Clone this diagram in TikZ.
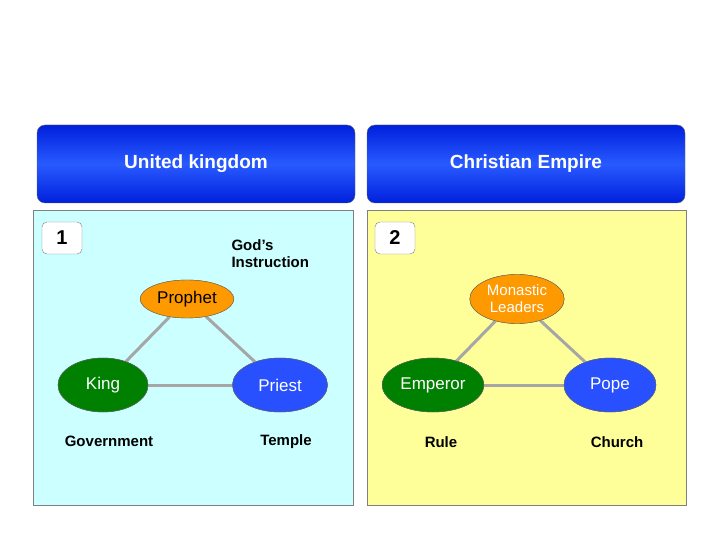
\documentclass[tikz,border=0pt]{standalone}
\usepackage{fontspec}
\setmainfont{Liberation Sans}
\usetikzlibrary{shapes.geometric}
\definecolor{hdblue}{RGB}{0,32,220}
\definecolor{hdlight}{RGB}{40,90,255}
\definecolor{paneblue}{RGB}{204,255,255}
\definecolor{paneyellow}{RGB}{255,255,153}
\definecolor{leafgreen}{RGB}{0,128,0}
\definecolor{leafblue}{RGB}{40,80,255}
\definecolor{topgold}{RGB}{255,153,0}
\tikzset{
  header/.style={rounded corners=8pt, draw=black!60, top color=hdblue, bottom color=hdblue, middle color=hdlight, minimum width=318pt, minimum height=78pt, text=white, font=\fontsize{19}{22}\selectfont\bfseries},
  pane/.style={draw=black!50, thin},
  numbox/.style={rounded corners=5pt, draw=black!50, fill=white, minimum width=40pt, minimum height=32pt, font=\fontsize{20}{22}\selectfont\bfseries},
  bubble/.style={ellipse, draw=black!60, minimum width=#1, minimum height=54pt, font=\fontsize{17}{19}\selectfont},
  tip/.style={ellipse, draw=black!60, fill=topgold, font=\fontsize{17}{19}\selectfont},
  caption/.style={font=\fontsize{15}{17}\selectfont\bfseries},
  link/.style={draw=black!35, line width=3pt}
}
\begin{document}
\begin{tikzpicture}[x=1pt, y=-1pt]
  \useasboundingbox (0,0) rectangle (720,540);
  % panels
  \draw[pane, fill=paneblue] (33,210) rectangle (353,505);
  \draw[pane, fill=paneyellow] (367,210) rectangle (686,505);
  \node[header] (uk) at (196,164) {United kingdom};
  \node[header] (ce) at (526,164) {Christian Empire};
  \node[numbox] (one) at (62,238) {1};
  \node[numbox] (two) at (395,238) {2};
  \node[caption, align=left, anchor=west] (inst) at (228,254) {God’s\\Instruction};
  % left triangle
  \node[tip, minimum width=76pt, minimum height=38pt] (prophet) at (187,299) {Prophet};
  \node[bubble=90pt, fill=leafgreen, text=white] (king) at (103,385) {King};
  \node[bubble=95pt, fill=leafblue, text=white] (priest) at (280,385) {Priest};
  \draw[link] (prophet) -- (king);
  \draw[link] (prophet) -- (priest);
  \draw[link] (king) -- (priest);
  \node[caption] (gov) at (109,441) {Government};
  \node[caption] (temple) at (286,442) {Temple};
  % right triangle
  \node[tip, minimum width=91pt, minimum height=44pt, align=center, font=\fontsize{15}{17}\selectfont, text=white] (monk) at (517,299) {Monastic\\Leaders};
  \node[bubble=88pt, fill=leafgreen, text=white] (emperor) at (433,385) {Emperor};
  \node[bubble=92pt, fill=leafblue, text=white] (pope) at (610,385) {Pope};
  \draw[link] (monk) -- (emperor);
  \draw[link] (monk) -- (pope);
  \draw[link] (emperor) -- (pope);
  \node[caption] (rule) at (441,442) {Rule};
  \node[caption] (church) at (617,442) {Church};
  % redraw nodes over links
  \node[tip, minimum width=76pt, minimum height=38pt] at (prophet) {Prophet};
  \node[tip, minimum width=91pt, minimum height=44pt, align=center, font=\fontsize{15}{17}\selectfont, text=white] at (monk) {Monastic\\Leaders};
  \node[bubble=90pt, fill=leafgreen, text=white] at (king) {King};
  \node[bubble=95pt, fill=leafblue, text=white] at (priest) {Priest};
  \node[bubble=88pt, fill=leafgreen, text=white] at (emperor) {Emperor};
  \node[bubble=92pt, fill=leafblue, text=white] at (pope) {Pope};
\end{tikzpicture}
\end{document}
